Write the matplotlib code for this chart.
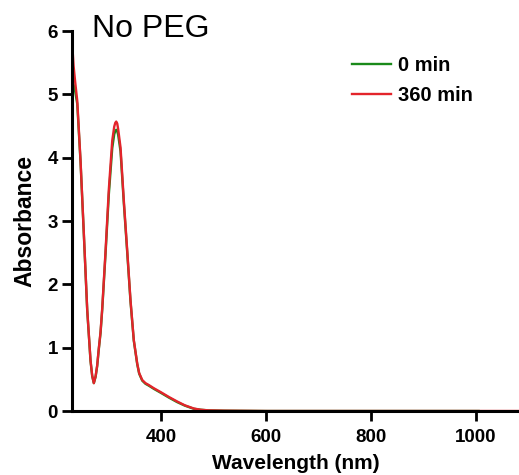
import matplotlib
matplotlib.use("Agg")
import matplotlib.pyplot as plt

# Data
wl_red = [230, 233, 236, 240, 246.3, 252.6, 259, 265.3, 268.5, 271.6, 275, 278, 281, 284.4, 287.6, 293.9, 300.2,
          306.7, 310.5, 312.5, 314.3, 316.2, 318, 322.5, 328.8, 335.2, 341.5, 347.8, 354.3, 358, 363.8, 370,
          376.4, 385.9, 398.7, 415, 430.5, 445, 462, 475, 490, 520, 600, 700, 800, 900, 1000, 1100]
ab_red = [5.85, 5.45, 5.2, 4.9, 3.95, 2.8, 1.6, 0.8, 0.56, 0.44, 0.55, 0.72, 0.98, 1.25, 1.62, 2.52, 3.5,
          4.27, 4.49, 4.55, 4.57, 4.54, 4.45, 4.16, 3.32, 2.54, 1.75, 1.12, 0.75, 0.6, 0.49, 0.44,
          0.41, 0.36, 0.30, 0.22, 0.15, 0.09, 0.04, 0.02, 0.01, 0.005, 0.0, 0.0, 0.0, 0.0, 0.0, 0.0]
wl_green = [230, 233, 236, 240, 246.3, 252.6, 259, 265.3, 268.5, 271.6, 275, 278, 281, 284.4, 287.6, 293.9, 300.2,
            306.7, 310.5, 312.5, 314.3, 316.2, 318, 322.5, 328.8, 335.2, 341.5, 347.8, 354.3, 358, 363.8, 370,
            376.4, 385.9, 398.7, 415, 430.5, 445, 462, 475, 490, 520, 600, 700, 800, 900, 1005]
ab_green = [5.25, 5.15, 5.05, 4.85, 3.93, 2.78, 1.59, 0.79, 0.55, 0.44, 0.54, 0.71, 0.97, 1.23, 1.6, 2.48, 3.42,
            4.15, 4.37, 4.42, 4.44, 4.42, 4.36, 4.1, 3.28, 2.51, 1.73, 1.11, 0.74, 0.59, 0.48, 0.43,
            0.40, 0.35, 0.29, 0.21, 0.14, 0.085, 0.035, 0.02, 0.01, 0.005, 0.0, 0.0, 0.0, 0.0, 0.0]
labels = ["0 min", "360 min"]
xticks = [400, 600, 800, 1000]
yticks = [0, 1, 2, 3, 4, 5, 6]

plt.rcParams['font.family'] = ['Liberation Sans', 'DejaVu Sans']

fig = plt.figure(figsize=(5.19, 4.75), dpi=100)
ax = fig.add_axes([72 / 519, 1 - 411 / 475, 1 - 72 / 519, (411 - 31) / 475])

ax.plot(wl_green, ab_green, color='#1a8a1a', lw=1.7, label=labels[0])
ax.plot(wl_red, ab_red, color='#e3242b', lw=1.7, label=labels[1])

ax.set_xlim(230, 1082)
ax.set_ylim(0, 6)
ax.set_xticks(xticks)
ax.set_yticks(yticks)
for s in ['top', 'right']:
    ax.spines[s].set_visible(False)
for s in ['left', 'bottom']:
    ax.spines[s].set_linewidth(2.2)
ax.tick_params(axis='y', direction='out', length=7, width=2, labelsize=13.5, pad=3)
ax.tick_params(axis='x', direction='out', length=7, width=2, labelsize=13.5, pad=6)
for t in ax.get_xticklabels() + ax.get_yticklabels():
    t.set_fontweight('bold')

ax.set_xlabel('Wavelength (nm)', fontsize=15, fontweight='bold', labelpad=6)
ax.set_ylabel('Absorbance', fontsize=16.5, fontweight='bold', labelpad=8)

fig.text(92 / 519, 1 - 37 / 475, 'No PEG', fontsize=23, ha='left', va='baseline')

ax.legend(loc='upper left', bbox_to_anchor=(352 / 519, 1 - 56 / 475), bbox_transform=fig.transFigure,
          frameon=False, prop={'weight': 'bold', 'size': 14.5}, handlelength=1.95,
          handletextpad=0.35, labelspacing=0.55, borderaxespad=0, borderpad=0)

fig.savefig('out.png', dpi=100, facecolor='white')
